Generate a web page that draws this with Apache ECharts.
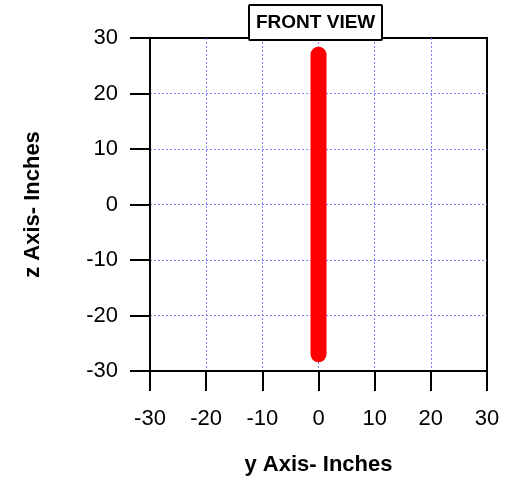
<!DOCTYPE html>
<html>
<head>
<meta charset="utf-8">
<script src="https://cdn.jsdelivr.net/npm/echarts@6/dist/echarts.min.js"></script>
<style>
  html, body { margin: 0; padding: 0; background: #fff; }
  #chart { width: 507px; height: 481px; }
</style>
</head>
<body>
<div id="chart"></div>
<script>
// Member profile seen from the front: horizontal (y) vs vertical (z) position, inches
const yPositions = [0, 0];
const zPositions = [-27, 27];
const axisTicks = [-30, -20, -10, 0, 10, 20, 30];

const chartTitle = 'FRONT VIEW';
const xName = 'y Axis- Inches';
const yName = 'z Axis- Inches';

const font = 'Liberation Sans, Arial, Helvetica, sans-serif';

const points = yPositions.map((y, i) => [y, zPositions[i]]);

const chart = echarts.init(document.getElementById('chart'), null, { renderer: 'canvas' });

function axisCommon(name) {
  return {
    type: 'value',
    min: axisTicks[0],
    max: axisTicks[axisTicks.length - 1],
    interval: axisTicks[1] - axisTicks[0],
    name: name,
    nameLocation: 'middle',
    nameTextStyle: { fontFamily: font, fontSize: 22, fontWeight: 'bold', color: '#000' },
    axisLine: { show: true, onZero: false, lineStyle: { color: '#000', width: 2 } },
    axisTick: { show: true, inside: false, length: 20, lineStyle: { color: '#000', width: 2 } },
    axisLabel: { fontFamily: font, fontSize: 22, color: '#000' },
    splitLine: {
      show: true,
      showMinLine: false,
      showMaxLine: false,
      lineStyle: { color: '#8080ff', width: 1, type: [2, 2] }
    }
  };
}

const xAxis = axisCommon(xName);
xAxis.nameGap = 83;
xAxis.axisLabel.margin = 37;

const yAxis = axisCommon(yName);
yAxis.nameGap = 106;
yAxis.nameRotate = 90;
yAxis.axisLabel.margin = 32;

chart.setOption({
  animation: false,
  backgroundColor: '#fff',
  title: {
    text: chartTitle,
    left: 249,
    top: 5,
    backgroundColor: '#fff',
    borderColor: '#000',
    borderWidth: 2,
    borderRadius: 1,
    padding: [8, 7, 8, 7],
    textStyle: { fontFamily: font, fontSize: 19, fontWeight: 'bold', color: '#000' },
    z: 10
  },
  grid: {
    left: 150, right: 20, top: 38, bottom: 107,
    show: true,
    borderColor: '#000',
    borderWidth: 2,
    backgroundColor: 'transparent'
  },
  xAxis: xAxis,
  yAxis: yAxis,
  series: [{
    type: 'line',
    data: points,
    symbol: 'none',
    lineStyle: { color: '#ff0000', width: 16, cap: 'round' },
    z: 3
  }]
});
</script>
</body>
</html>
